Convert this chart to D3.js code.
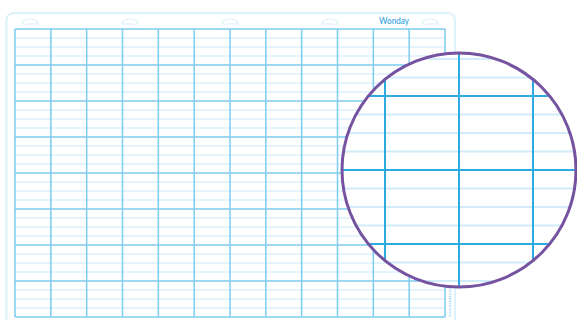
<!DOCTYPE html>
<html><head><meta charset="utf-8">
<script src="https://cdn.jsdelivr.net/npm/d3@7"></script>
<style>html,body{margin:0;padding:0;background:#fff;}svg{display:block;}</style>
</head><body>
<script>
// Grid description (Seyès-style board)
const columns = [0,1,2,3,4,5,6,7,8,9,10,11,12];     // major vertical lines
const rows = [0,1,2,3,4,5,6,7,8];                    // major horizontal lines
const subLines = [0.25,0.5,0.75];                    // minor lines inside each row
const ringHoles = [0,1,2,3,4];                       // binder holes along top
const zoomCols = [-2,-1,0,1,2];                      // magnified major verticals (relative)
const zoomRows = [-2,-1,0,1,2];                      // magnified major horizontals (relative)
const brand = "Wonday";
const footer = "www.wonday.com";

const W = 577, H = 320;
const svg = d3.select("body").append("svg").attr("width", W).attr("height", H);

const x = d3.scaleLinear().domain([0, 12]).range([15, 445]);
const y = d3.scaleLinear().domain([0, 8]).range([29, 317]);

// board
svg.append("rect").attr("x", 6.5).attr("y", 13).attr("width", 448.5).attr("height", 330)
  .attr("rx", 7).attr("fill", "#fff").attr("stroke", "#def2fb").attr("stroke-width", 2);

// ring holes
const hx = d3.scaleLinear().domain([0, 4]).range([30, 430]);
svg.selectAll("path.hole").data(ringHoles).join("path")
  .attr("d", d => { const c = hx(d); return `M${c-8},24 Q${c-7},19 ${c},19 Q${c+7},19 ${c+8},24 Z`; })
  .attr("fill", "none").attr("stroke", "#dbf0fa").attr("stroke-width", 1.2);

// brand
svg.append("text").attr("x", 394).attr("y", 24).attr("text-anchor", "middle")
  .attr("font-family", "Lato, sans-serif").attr("font-weight", 600).attr("font-size", 10)
  .attr("textLength", 30).attr("lengthAdjust", "spacingAndGlyphs")
  .attr("fill", "#3fa9df").text(brand);

// minor horizontals
const minorData = [];
rows.slice(0, -1).forEach(r => subLines.forEach(s => minorData.push(r + s)));
svg.selectAll("line.minor").data(minorData).join("line")
  .attr("x1", x(0)).attr("x2", x(12)).attr("y1", d => y(d)).attr("y2", d => y(d))
  .attr("stroke", "#dcf1fb").attr("stroke-width", 1.4);

// major verticals
svg.selectAll("line.vmaj").data(columns).join("line")
  .attr("x1", d => x(d)).attr("x2", d => x(d)).attr("y1", y(0)).attr("y2", y(8))
  .attr("stroke", "#7ccdf0").attr("stroke-width", 1.5);
// major horizontals
svg.selectAll("line.hmaj").data(rows).join("line")
  .attr("x1", x(0)).attr("x2", x(12)).attr("y1", d => y(d)).attr("y2", d => y(d))
  .attr("stroke", "#7ccdf0").attr("stroke-width", 1.5);

// footer vertical text
svg.append("text").attr("transform", "translate(451,317) rotate(-90)")
  .attr("font-family", "DejaVu Sans, sans-serif").attr("font-size", 3.6)
  .attr("fill", "#7ec8ec").text(footer);

// magnifier
const cx = 459, cy = 170, R = 117;
const defs = svg.append("defs");
defs.append("clipPath").attr("id", "lens").append("circle").attr("cx", cx).attr("cy", cy).attr("r", R);
const g = svg.append("g").attr("clip-path", "url(#lens)");
g.append("circle").attr("cx", cx).attr("cy", cy).attr("r", R).attr("fill", "#fff");
const zx = d3.scaleLinear().domain([0, 1]).range([cx, cx + 74]);
const zy = d3.scaleLinear().domain([0, 1]).range([cy, cy + 74]);
const zMinor = [];
zoomRows.slice(0, -1).forEach(r => subLines.forEach(s => zMinor.push(r + s)));
zMinor.push(-2 - 0.25, -2 - 0.5, -2 - 0.75);
g.selectAll("line.zmin").data(zMinor).join("line")
  .attr("x1", cx - R).attr("x2", cx + R).attr("y1", d => zy(d)).attr("y2", d => zy(d))
  .attr("stroke", "#d2ecf9").attr("stroke-width", 2);
g.selectAll("line.zv").data(zoomCols).join("line")
  .attr("x1", d => zx(d)).attr("x2", d => zx(d)).attr("y1", cy - R).attr("y2", cy + R)
  .attr("stroke", "#2eaae2").attr("stroke-width", 2);
g.selectAll("line.zh").data(zoomRows).join("line")
  .attr("x1", cx - R).attr("x2", cx + R).attr("y1", d => zy(d)).attr("y2", d => zy(d))
  .attr("stroke", "#2eaae2").attr("stroke-width", 2);
svg.append("circle").attr("cx", cx).attr("cy", cy).attr("r", R)
  .attr("fill", "none").attr("stroke", "#7553a0").attr("stroke-width", 3);
</script>
</body></html>
